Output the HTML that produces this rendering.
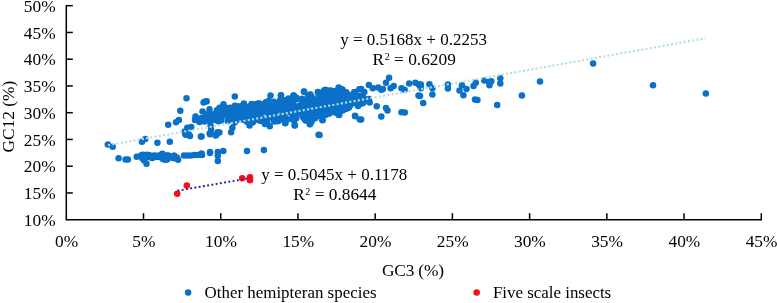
<!DOCTYPE html>
<html><head><meta charset="utf-8"><title>GC12 vs GC3</title>
<style>html,body{margin:0;padding:0;background:#fff}svg{display:block;will-change:transform}</style></head>
<body>
<svg width="777" height="303" viewBox="0 0 777 303">
<rect width="777" height="303" fill="#fff"/>
<g fill="#0b70c8">
<circle cx="107.8" cy="144.4" r="3.25"/>
<circle cx="112.7" cy="146.7" r="3.25"/>
<circle cx="141.9" cy="141.7" r="3.25"/>
<circle cx="145.3" cy="139.0" r="3.25"/>
<circle cx="157.4" cy="142.8" r="3.25"/>
<circle cx="169.8" cy="141.7" r="3.25"/>
<circle cx="118.6" cy="158.3" r="3.25"/>
<circle cx="125.6" cy="159.4" r="3.25"/>
<circle cx="127.9" cy="159.4" r="3.25"/>
<circle cx="136.7" cy="156.8" r="3.25"/>
<circle cx="146.5" cy="163.8" r="3.25"/>
<circle cx="210.0" cy="152.9" r="3.25"/>
<circle cx="217.8" cy="155.7" r="3.25"/>
<circle cx="217.8" cy="161.0" r="3.25"/>
<circle cx="185.3" cy="134.3" r="3.25"/>
<circle cx="190.0" cy="135.9" r="3.25"/>
<circle cx="200.8" cy="136.6" r="3.25"/>
<circle cx="210.0" cy="134.3" r="3.25"/>
<circle cx="215.5" cy="135.1" r="3.25"/>
<circle cx="168.2" cy="124.8" r="3.25"/>
<circle cx="186.5" cy="98.2" r="3.25"/>
<circle cx="180.3" cy="110.8" r="3.25"/>
<circle cx="176.0" cy="122.3" r="3.25"/>
<circle cx="178.9" cy="120.0" r="3.25"/>
<circle cx="203.6" cy="102.4" r="3.25"/>
<circle cx="206.7" cy="101.3" r="3.25"/>
<circle cx="234.8" cy="96.4" r="3.25"/>
<circle cx="243.9" cy="103.5" r="3.25"/>
<circle cx="223.5" cy="104.3" r="3.25"/>
<circle cx="202.5" cy="111.5" r="3.25"/>
<circle cx="209.5" cy="109.3" r="3.25"/>
<circle cx="195.5" cy="116.5" r="3.25"/>
<circle cx="195.0" cy="120.0" r="3.25"/>
<circle cx="199.5" cy="121.9" r="3.25"/>
<circle cx="201.5" cy="118.0" r="3.25"/>
<circle cx="206.6" cy="114.2" r="3.25"/>
<circle cx="187.3" cy="127.7" r="3.25"/>
<circle cx="191.2" cy="127.0" r="3.25"/>
<circle cx="184.7" cy="131.5" r="3.25"/>
<circle cx="188.6" cy="134.1" r="3.25"/>
<circle cx="186.0" cy="134.7" r="3.25"/>
<circle cx="210.5" cy="125.1" r="3.25"/>
<circle cx="211.1" cy="129.6" r="3.25"/>
<circle cx="209.8" cy="133.5" r="3.25"/>
<circle cx="217.6" cy="132.2" r="3.25"/>
<circle cx="215.6" cy="135.4" r="3.25"/>
<circle cx="231.1" cy="132.2" r="3.25"/>
<circle cx="232.4" cy="127.7" r="3.25"/>
<circle cx="219.5" cy="107.7" r="3.25"/>
<circle cx="216.9" cy="110.3" r="3.25"/>
<circle cx="214.4" cy="114.2" r="3.25"/>
<circle cx="215.6" cy="119.3" r="3.25"/>
<circle cx="218.2" cy="121.2" r="3.25"/>
<circle cx="234.9" cy="105.8" r="3.25"/>
<circle cx="229.8" cy="107.7" r="3.25"/>
<circle cx="270.5" cy="95.5" r="3.25"/>
<circle cx="280.9" cy="95.2" r="3.25"/>
<circle cx="293.8" cy="95.5" r="3.25"/>
<circle cx="303.9" cy="91.6" r="3.25"/>
<circle cx="310.0" cy="94.7" r="3.25"/>
<circle cx="318.6" cy="92.4" r="3.25"/>
<circle cx="285.3" cy="100.2" r="3.25"/>
<circle cx="204.7" cy="101.7" r="3.25"/>
<circle cx="201.6" cy="136.4" r="3.25"/>
<circle cx="210.0" cy="133.3" r="3.25"/>
<circle cx="216.3" cy="134.8" r="3.25"/>
<circle cx="219.4" cy="132.5" r="3.25"/>
<circle cx="249.6" cy="125.5" r="3.25"/>
<circle cx="269.8" cy="126.3" r="3.25"/>
<circle cx="265.0" cy="124.0" r="3.25"/>
<circle cx="285.3" cy="123.2" r="3.25"/>
<circle cx="294.6" cy="125.5" r="3.25"/>
<circle cx="310.0" cy="124.0" r="3.25"/>
<circle cx="318.6" cy="134.8" r="3.25"/>
<circle cx="201.6" cy="153.4" r="3.25"/>
<circle cx="210.0" cy="151.9" r="3.25"/>
<circle cx="217.8" cy="151.9" r="3.25"/>
<circle cx="223.3" cy="151.1" r="3.25"/>
<circle cx="247.0" cy="151.1" r="3.25"/>
<circle cx="263.9" cy="150.0" r="3.25"/>
<circle cx="389.1" cy="77.8" r="3.25"/>
<circle cx="386.0" cy="82.8" r="3.25"/>
<circle cx="368.9" cy="85.1" r="3.25"/>
<circle cx="361.2" cy="89.0" r="3.25"/>
<circle cx="364.3" cy="92.0" r="3.25"/>
<circle cx="393.7" cy="85.9" r="3.25"/>
<circle cx="390.6" cy="88.2" r="3.25"/>
<circle cx="372.8" cy="88.2" r="3.25"/>
<circle cx="378.2" cy="87.4" r="3.25"/>
<circle cx="381.3" cy="89.7" r="3.25"/>
<circle cx="382.9" cy="89.0" r="3.25"/>
<circle cx="401.5" cy="88.2" r="3.25"/>
<circle cx="404.6" cy="89.7" r="3.25"/>
<circle cx="409.2" cy="83.5" r="3.25"/>
<circle cx="415.4" cy="82.8" r="3.25"/>
<circle cx="418.5" cy="84.3" r="3.25"/>
<circle cx="420.0" cy="85.9" r="3.25"/>
<circle cx="429.4" cy="84.3" r="3.25"/>
<circle cx="418.5" cy="95.5" r="3.25"/>
<circle cx="423.2" cy="102.9" r="3.25"/>
<circle cx="401.5" cy="112.2" r="3.25"/>
<circle cx="404.8" cy="112.5" r="3.25"/>
<circle cx="386.0" cy="108.0" r="3.25"/>
<circle cx="387.5" cy="110.5" r="3.25"/>
<circle cx="376.7" cy="106.3" r="3.25"/>
<circle cx="381.3" cy="116.6" r="3.25"/>
<circle cx="368.9" cy="99.0" r="3.25"/>
<circle cx="369.7" cy="102.6" r="3.25"/>
<circle cx="355.0" cy="115.8" r="3.25"/>
<circle cx="361.2" cy="119.5" r="3.25"/>
<circle cx="319.6" cy="134.9" r="3.25"/>
<circle cx="322.4" cy="120.2" r="3.25"/>
<circle cx="311.5" cy="121.7" r="3.25"/>
<circle cx="338.7" cy="114.7" r="3.25"/>
<circle cx="348.8" cy="107.8" r="3.25"/>
<circle cx="358.0" cy="105.9" r="3.25"/>
<circle cx="317.8" cy="92.0" r="3.25"/>
<circle cx="325.5" cy="89.7" r="3.25"/>
<circle cx="338.7" cy="87.4" r="3.25"/>
<circle cx="342.6" cy="89.7" r="3.25"/>
<circle cx="355.0" cy="92.0" r="3.25"/>
<circle cx="420.8" cy="84.4" r="3.25"/>
<circle cx="420.8" cy="88.3" r="3.25"/>
<circle cx="432.4" cy="88.3" r="3.25"/>
<circle cx="432.4" cy="94.5" r="3.25"/>
<circle cx="420.0" cy="96.0" r="3.25"/>
<circle cx="447.9" cy="84.4" r="3.25"/>
<circle cx="447.9" cy="88.6" r="3.25"/>
<circle cx="461.9" cy="85.2" r="3.25"/>
<circle cx="459.5" cy="90.6" r="3.25"/>
<circle cx="466.5" cy="89.0" r="3.25"/>
<circle cx="463.4" cy="95.2" r="3.25"/>
<circle cx="475.8" cy="82.8" r="3.25"/>
<circle cx="473.5" cy="85.9" r="3.25"/>
<circle cx="475.0" cy="99.4" r="3.25"/>
<circle cx="477.4" cy="99.9" r="3.25"/>
<circle cx="484.3" cy="80.5" r="3.25"/>
<circle cx="489.0" cy="82.1" r="3.25"/>
<circle cx="491.3" cy="81.3" r="3.25"/>
<circle cx="489.5" cy="85.2" r="3.25"/>
<circle cx="500.3" cy="78.2" r="3.25"/>
<circle cx="500.3" cy="83.6" r="3.25"/>
<circle cx="497.2" cy="105.0" r="3.25"/>
<circle cx="521.9" cy="95.5" r="3.25"/>
<circle cx="540.0" cy="81.4" r="3.25"/>
<circle cx="593.1" cy="63.5" r="3.25"/>
<circle cx="653.0" cy="85.3" r="3.25"/>
<circle cx="705.8" cy="93.6" r="3.25"/>
<circle cx="281.0" cy="95.4" r="3.25"/>
<circle cx="293.4" cy="95.4" r="3.25"/>
<circle cx="304.2" cy="91.8" r="3.25"/>
<circle cx="310.4" cy="94.4" r="3.25"/>
<circle cx="318.1" cy="92.3" r="3.25"/>
<circle cx="324.3" cy="90.2" r="3.25"/>
<circle cx="331.5" cy="90.8" r="3.25"/>
<circle cx="338.7" cy="88.2" r="3.25"/>
<circle cx="341.8" cy="89.2" r="3.25"/>
<circle cx="345.9" cy="92.3" r="3.25"/>
<circle cx="354.2" cy="92.3" r="3.25"/>
<circle cx="359.3" cy="89.2" r="3.25"/>
<circle cx="285.1" cy="122.7" r="3.25"/>
<circle cx="294.9" cy="125.2" r="3.25"/>
<circle cx="309.9" cy="124.2" r="3.25"/>
<circle cx="322.7" cy="120.1" r="3.25"/>
<circle cx="339.2" cy="114.9" r="3.25"/>
<circle cx="355.2" cy="116.3" r="3.25"/>
<circle cx="359.8" cy="119.6" r="3.25"/>
<circle cx="152.3" cy="158.1" r="3.25"/>
<circle cx="142.4" cy="158.6" r="3.25"/>
<circle cx="160.7" cy="156.3" r="3.25"/>
<circle cx="159.5" cy="157.1" r="3.25"/>
<circle cx="141.0" cy="156.1" r="3.25"/>
<circle cx="143.1" cy="156.9" r="3.25"/>
<circle cx="156.3" cy="157.1" r="3.25"/>
<circle cx="148.3" cy="156.0" r="3.25"/>
<circle cx="164.3" cy="158.7" r="3.25"/>
<circle cx="155.2" cy="156.0" r="3.25"/>
<circle cx="178.1" cy="159.7" r="3.25"/>
<circle cx="150.9" cy="157.6" r="3.25"/>
<circle cx="145.2" cy="157.7" r="3.25"/>
<circle cx="171.7" cy="157.6" r="3.25"/>
<circle cx="146.6" cy="154.7" r="3.25"/>
<circle cx="154.2" cy="155.6" r="3.25"/>
<circle cx="161.1" cy="157.2" r="3.25"/>
<circle cx="147.6" cy="156.9" r="3.25"/>
<circle cx="166.4" cy="155.5" r="3.25"/>
<circle cx="162.6" cy="157.3" r="3.25"/>
<circle cx="157.4" cy="155.8" r="3.25"/>
<circle cx="167.1" cy="159.4" r="3.25"/>
<circle cx="149.1" cy="155.0" r="3.25"/>
<circle cx="174.1" cy="155.8" r="3.25"/>
<circle cx="168.3" cy="155.6" r="3.25"/>
<circle cx="144.2" cy="160.5" r="3.25"/>
<circle cx="156.0" cy="156.7" r="3.25"/>
<circle cx="158.8" cy="155.8" r="3.25"/>
<circle cx="141.0" cy="155.4" r="3.25"/>
<circle cx="162.1" cy="154.3" r="3.25"/>
<circle cx="174.1" cy="155.7" r="3.25"/>
<circle cx="163.0" cy="159.0" r="3.25"/>
<circle cx="162.4" cy="153.8" r="3.25"/>
<circle cx="176.8" cy="157.5" r="3.25"/>
<circle cx="158.2" cy="156.4" r="3.25"/>
<circle cx="167.2" cy="156.2" r="3.25"/>
<circle cx="165.1" cy="159.7" r="3.25"/>
<circle cx="150.7" cy="156.6" r="3.25"/>
<circle cx="154.7" cy="156.5" r="3.25"/>
<circle cx="157.7" cy="156.4" r="3.25"/>
<circle cx="146.1" cy="157.1" r="3.25"/>
<circle cx="169.8" cy="157.1" r="3.25"/>
<circle cx="144.6" cy="156.7" r="3.25"/>
<circle cx="173.9" cy="158.3" r="3.25"/>
<circle cx="142.7" cy="154.8" r="3.25"/>
<circle cx="184.0" cy="155.5" r="3.25"/>
<circle cx="187.5" cy="155.5" r="3.25"/>
<circle cx="191.0" cy="155.5" r="3.25"/>
<circle cx="194.5" cy="155.0" r="3.25"/>
<circle cx="198.0" cy="155.1" r="3.25"/>
<circle cx="202.0" cy="155.1" r="3.25"/>
<circle cx="345.9" cy="108.8" r="3.25"/>
<circle cx="224.9" cy="110.7" r="3.25"/>
<circle cx="238.5" cy="114.4" r="3.25"/>
<circle cx="243.4" cy="111.4" r="3.25"/>
<circle cx="260.9" cy="113.1" r="3.25"/>
<circle cx="357.3" cy="102.1" r="3.25"/>
<circle cx="285.1" cy="112.6" r="3.25"/>
<circle cx="311.6" cy="96.8" r="3.25"/>
<circle cx="348.4" cy="105.2" r="3.25"/>
<circle cx="344.3" cy="106.5" r="3.25"/>
<circle cx="264.7" cy="110.2" r="3.25"/>
<circle cx="210.3" cy="115.1" r="3.25"/>
<circle cx="226.8" cy="108.1" r="3.25"/>
<circle cx="200.0" cy="119.8" r="3.25"/>
<circle cx="260.0" cy="103.8" r="3.25"/>
<circle cx="344.3" cy="103.3" r="3.25"/>
<circle cx="224.5" cy="112.3" r="3.25"/>
<circle cx="260.1" cy="105.5" r="3.25"/>
<circle cx="340.1" cy="111.4" r="3.25"/>
<circle cx="276.9" cy="110.8" r="3.25"/>
<circle cx="214.2" cy="115.1" r="3.25"/>
<circle cx="243.7" cy="107.6" r="3.25"/>
<circle cx="287.2" cy="103.6" r="3.25"/>
<circle cx="289.6" cy="100.9" r="3.25"/>
<circle cx="287.1" cy="119.4" r="3.25"/>
<circle cx="342.4" cy="105.1" r="3.25"/>
<circle cx="243.1" cy="107.8" r="3.25"/>
<circle cx="327.4" cy="103.9" r="3.25"/>
<circle cx="328.5" cy="99.4" r="3.25"/>
<circle cx="362.5" cy="102.4" r="3.25"/>
<circle cx="333.0" cy="109.6" r="3.25"/>
<circle cx="322.1" cy="98.1" r="3.25"/>
<circle cx="285.4" cy="107.7" r="3.25"/>
<circle cx="204.8" cy="117.8" r="3.25"/>
<circle cx="242.8" cy="119.3" r="3.25"/>
<circle cx="273.8" cy="119.2" r="3.25"/>
<circle cx="363.0" cy="103.1" r="3.25"/>
<circle cx="260.2" cy="107.1" r="3.25"/>
<circle cx="237.4" cy="109.1" r="3.25"/>
<circle cx="303.0" cy="116.9" r="3.25"/>
<circle cx="338.7" cy="101.6" r="3.25"/>
<circle cx="307.7" cy="113.9" r="3.25"/>
<circle cx="350.1" cy="104.8" r="3.25"/>
<circle cx="323.8" cy="103.2" r="3.25"/>
<circle cx="254.9" cy="117.0" r="3.25"/>
<circle cx="360.3" cy="98.7" r="3.25"/>
<circle cx="266.2" cy="119.8" r="3.25"/>
<circle cx="319.6" cy="97.4" r="3.25"/>
<circle cx="221.0" cy="120.4" r="3.25"/>
<circle cx="333.1" cy="95.0" r="3.25"/>
<circle cx="336.4" cy="112.4" r="3.25"/>
<circle cx="308.4" cy="104.1" r="3.25"/>
<circle cx="290.5" cy="102.8" r="3.25"/>
<circle cx="307.2" cy="108.2" r="3.25"/>
<circle cx="354.0" cy="99.5" r="3.25"/>
<circle cx="343.8" cy="107.1" r="3.25"/>
<circle cx="234.8" cy="110.6" r="3.25"/>
<circle cx="239.7" cy="109.6" r="3.25"/>
<circle cx="269.1" cy="105.0" r="3.25"/>
<circle cx="350.2" cy="98.5" r="3.25"/>
<circle cx="275.6" cy="112.7" r="3.25"/>
<circle cx="349.2" cy="99.6" r="3.25"/>
<circle cx="351.4" cy="100.6" r="3.25"/>
<circle cx="287.8" cy="110.7" r="3.25"/>
<circle cx="230.2" cy="117.8" r="3.25"/>
<circle cx="228.4" cy="117.0" r="3.25"/>
<circle cx="291.8" cy="106.5" r="3.25"/>
<circle cx="285.5" cy="111.5" r="3.25"/>
<circle cx="329.4" cy="94.5" r="3.25"/>
<circle cx="292.4" cy="104.9" r="3.25"/>
<circle cx="245.7" cy="112.5" r="3.25"/>
<circle cx="292.7" cy="115.0" r="3.25"/>
<circle cx="350.6" cy="99.8" r="3.25"/>
<circle cx="301.1" cy="108.9" r="3.25"/>
<circle cx="284.5" cy="114.1" r="3.25"/>
<circle cx="274.6" cy="111.8" r="3.25"/>
<circle cx="278.9" cy="119.0" r="3.25"/>
<circle cx="315.4" cy="114.0" r="3.25"/>
<circle cx="355.5" cy="97.3" r="3.25"/>
<circle cx="292.3" cy="118.7" r="3.25"/>
<circle cx="338.6" cy="94.7" r="3.25"/>
<circle cx="220.1" cy="110.0" r="3.25"/>
<circle cx="239.7" cy="115.4" r="3.25"/>
<circle cx="329.3" cy="111.6" r="3.25"/>
<circle cx="308.9" cy="99.5" r="3.25"/>
<circle cx="345.7" cy="109.0" r="3.25"/>
<circle cx="265.7" cy="111.7" r="3.25"/>
<circle cx="363.3" cy="102.0" r="3.25"/>
<circle cx="226.6" cy="114.3" r="3.25"/>
<circle cx="256.0" cy="106.8" r="3.25"/>
<circle cx="252.6" cy="115.7" r="3.25"/>
<circle cx="272.7" cy="102.7" r="3.25"/>
<circle cx="254.7" cy="114.0" r="3.25"/>
<circle cx="284.5" cy="102.3" r="3.25"/>
<circle cx="362.5" cy="101.9" r="3.25"/>
<circle cx="360.3" cy="95.9" r="3.25"/>
<circle cx="243.8" cy="116.6" r="3.25"/>
<circle cx="244.6" cy="111.3" r="3.25"/>
<circle cx="350.4" cy="105.3" r="3.25"/>
<circle cx="242.7" cy="118.7" r="3.25"/>
<circle cx="294.1" cy="113.8" r="3.25"/>
<circle cx="214.8" cy="119.0" r="3.25"/>
<circle cx="270.2" cy="103.9" r="3.25"/>
<circle cx="354.8" cy="101.9" r="3.25"/>
<circle cx="332.3" cy="93.7" r="3.25"/>
<circle cx="341.3" cy="93.5" r="3.25"/>
<circle cx="342.4" cy="100.7" r="3.25"/>
<circle cx="256.0" cy="112.8" r="3.25"/>
<circle cx="352.9" cy="97.3" r="3.25"/>
<circle cx="221.3" cy="111.8" r="3.25"/>
<circle cx="218.1" cy="110.3" r="3.25"/>
<circle cx="233.3" cy="110.9" r="3.25"/>
<circle cx="325.3" cy="98.9" r="3.25"/>
<circle cx="282.5" cy="104.7" r="3.25"/>
<circle cx="257.3" cy="103.8" r="3.25"/>
<circle cx="241.3" cy="116.2" r="3.25"/>
<circle cx="290.9" cy="103.9" r="3.25"/>
<circle cx="278.3" cy="118.9" r="3.25"/>
<circle cx="271.3" cy="111.4" r="3.25"/>
<circle cx="337.7" cy="99.9" r="3.25"/>
<circle cx="283.6" cy="114.1" r="3.25"/>
<circle cx="362.1" cy="98.1" r="3.25"/>
<circle cx="337.3" cy="106.4" r="3.25"/>
<circle cx="304.9" cy="106.2" r="3.25"/>
<circle cx="257.3" cy="104.4" r="3.25"/>
<circle cx="221.4" cy="118.2" r="3.25"/>
<circle cx="242.2" cy="106.7" r="3.25"/>
<circle cx="338.8" cy="109.4" r="3.25"/>
<circle cx="310.6" cy="102.0" r="3.25"/>
<circle cx="240.0" cy="112.4" r="3.25"/>
<circle cx="226.0" cy="111.0" r="3.25"/>
<circle cx="358.7" cy="104.7" r="3.25"/>
<circle cx="290.3" cy="105.1" r="3.25"/>
<circle cx="359.3" cy="97.9" r="3.25"/>
<circle cx="258.8" cy="103.4" r="3.25"/>
<circle cx="263.0" cy="111.5" r="3.25"/>
<circle cx="283.0" cy="105.0" r="3.25"/>
<circle cx="283.3" cy="101.4" r="3.25"/>
<circle cx="243.6" cy="111.1" r="3.25"/>
<circle cx="206.9" cy="117.2" r="3.25"/>
<circle cx="238.4" cy="113.5" r="3.25"/>
<circle cx="323.8" cy="107.1" r="3.25"/>
<circle cx="318.1" cy="113.4" r="3.25"/>
<circle cx="264.3" cy="108.9" r="3.25"/>
<circle cx="362.5" cy="96.5" r="3.25"/>
<circle cx="319.5" cy="107.8" r="3.25"/>
<circle cx="347.2" cy="103.0" r="3.25"/>
<circle cx="321.1" cy="111.2" r="3.25"/>
<circle cx="223.0" cy="114.8" r="3.25"/>
<circle cx="337.8" cy="108.3" r="3.25"/>
<circle cx="336.4" cy="104.1" r="3.25"/>
<circle cx="347.3" cy="103.9" r="3.25"/>
<circle cx="314.4" cy="99.9" r="3.25"/>
<circle cx="205.1" cy="118.1" r="3.25"/>
<circle cx="292.2" cy="112.4" r="3.25"/>
<circle cx="303.3" cy="112.3" r="3.25"/>
<circle cx="280.7" cy="101.6" r="3.25"/>
<circle cx="331.6" cy="108.2" r="3.25"/>
<circle cx="283.0" cy="111.3" r="3.25"/>
<circle cx="308.8" cy="97.9" r="3.25"/>
<circle cx="321.6" cy="98.8" r="3.25"/>
<circle cx="212.3" cy="119.7" r="3.25"/>
<circle cx="361.0" cy="99.5" r="3.25"/>
<circle cx="263.1" cy="111.6" r="3.25"/>
<circle cx="312.8" cy="112.1" r="3.25"/>
<circle cx="301.8" cy="111.7" r="3.25"/>
<circle cx="212.8" cy="114.6" r="3.25"/>
<circle cx="322.6" cy="99.7" r="3.25"/>
<circle cx="293.7" cy="100.0" r="3.25"/>
<circle cx="210.0" cy="119.4" r="3.25"/>
<circle cx="314.2" cy="109.8" r="3.25"/>
<circle cx="248.0" cy="111.8" r="3.25"/>
<circle cx="276.9" cy="104.1" r="3.25"/>
<circle cx="347.5" cy="96.2" r="3.25"/>
<circle cx="361.4" cy="103.5" r="3.25"/>
<circle cx="335.3" cy="112.5" r="3.25"/>
<circle cx="274.2" cy="107.1" r="3.25"/>
<circle cx="234.8" cy="108.6" r="3.25"/>
<circle cx="286.5" cy="118.9" r="3.25"/>
<circle cx="283.9" cy="117.7" r="3.25"/>
<circle cx="316.1" cy="99.5" r="3.25"/>
<circle cx="348.1" cy="100.7" r="3.25"/>
<circle cx="204.1" cy="119.2" r="3.25"/>
<circle cx="274.4" cy="107.6" r="3.25"/>
<circle cx="223.2" cy="112.3" r="3.25"/>
<circle cx="338.6" cy="92.0" r="3.25"/>
<circle cx="323.9" cy="111.1" r="3.25"/>
<circle cx="317.6" cy="114.0" r="3.25"/>
<circle cx="247.8" cy="110.7" r="3.25"/>
<circle cx="364.8" cy="99.9" r="3.25"/>
<circle cx="259.5" cy="110.7" r="3.25"/>
<circle cx="245.4" cy="106.5" r="3.25"/>
<circle cx="337.7" cy="97.7" r="3.25"/>
<circle cx="354.4" cy="97.1" r="3.25"/>
<circle cx="243.8" cy="108.0" r="3.25"/>
<circle cx="261.6" cy="119.9" r="3.25"/>
<circle cx="345.9" cy="106.3" r="3.25"/>
<circle cx="304.1" cy="117.1" r="3.25"/>
<circle cx="355.2" cy="100.8" r="3.25"/>
<circle cx="318.7" cy="94.9" r="3.25"/>
<circle cx="320.8" cy="103.3" r="3.25"/>
<circle cx="324.2" cy="106.8" r="3.25"/>
<circle cx="247.2" cy="118.8" r="3.25"/>
<circle cx="221.0" cy="113.2" r="3.25"/>
<circle cx="249.1" cy="119.6" r="3.25"/>
<circle cx="242.9" cy="109.8" r="3.25"/>
<circle cx="292.0" cy="107.8" r="3.25"/>
<circle cx="227.6" cy="110.1" r="3.25"/>
<circle cx="349.5" cy="100.7" r="3.25"/>
<circle cx="364.4" cy="98.9" r="3.25"/>
<circle cx="223.0" cy="109.4" r="3.25"/>
<circle cx="256.4" cy="105.1" r="3.25"/>
<circle cx="239.5" cy="114.0" r="3.25"/>
<circle cx="346.4" cy="105.2" r="3.25"/>
<circle cx="268.1" cy="110.2" r="3.25"/>
<circle cx="286.5" cy="108.0" r="3.25"/>
<circle cx="255.8" cy="104.6" r="3.25"/>
<circle cx="220.8" cy="116.9" r="3.25"/>
<circle cx="342.4" cy="96.3" r="3.25"/>
<circle cx="244.7" cy="111.0" r="3.25"/>
<circle cx="273.6" cy="119.5" r="3.25"/>
<circle cx="340.0" cy="109.1" r="3.25"/>
<circle cx="203.6" cy="120.4" r="3.25"/>
<circle cx="347.8" cy="100.5" r="3.25"/>
<circle cx="296.9" cy="99.2" r="3.25"/>
<circle cx="264.6" cy="119.5" r="3.25"/>
<circle cx="336.2" cy="109.8" r="3.25"/>
<circle cx="360.4" cy="97.3" r="3.25"/>
<circle cx="218.0" cy="116.2" r="3.25"/>
<circle cx="312.5" cy="116.0" r="3.25"/>
<circle cx="319.1" cy="108.0" r="3.25"/>
<circle cx="326.2" cy="102.4" r="3.25"/>
<circle cx="291.0" cy="101.0" r="3.25"/>
<circle cx="329.1" cy="97.2" r="3.25"/>
<circle cx="351.8" cy="102.5" r="3.25"/>
<circle cx="250.1" cy="106.3" r="3.25"/>
<circle cx="241.5" cy="115.6" r="3.25"/>
<circle cx="218.5" cy="116.1" r="3.25"/>
<circle cx="296.2" cy="107.2" r="3.25"/>
<circle cx="236.9" cy="106.5" r="3.25"/>
<circle cx="249.8" cy="119.4" r="3.25"/>
<circle cx="306.4" cy="116.0" r="3.25"/>
<circle cx="278.4" cy="106.1" r="3.25"/>
<circle cx="316.3" cy="101.2" r="3.25"/>
<circle cx="311.3" cy="104.9" r="3.25"/>
<circle cx="242.4" cy="118.8" r="3.25"/>
<circle cx="237.4" cy="111.0" r="3.25"/>
<circle cx="269.4" cy="114.9" r="3.25"/>
<circle cx="322.0" cy="104.2" r="3.25"/>
<circle cx="251.4" cy="117.2" r="3.25"/>
<circle cx="238.1" cy="116.8" r="3.25"/>
<circle cx="281.8" cy="104.9" r="3.25"/>
<circle cx="236.8" cy="115.6" r="3.25"/>
<circle cx="356.5" cy="96.0" r="3.25"/>
<circle cx="264.9" cy="106.9" r="3.25"/>
<circle cx="360.7" cy="96.3" r="3.25"/>
<circle cx="208.6" cy="117.3" r="3.25"/>
<circle cx="348.2" cy="106.9" r="3.25"/>
<circle cx="320.9" cy="115.3" r="3.25"/>
<circle cx="353.7" cy="98.1" r="3.25"/>
<circle cx="323.1" cy="93.7" r="3.25"/>
<circle cx="309.6" cy="104.4" r="3.25"/>
<circle cx="261.7" cy="109.0" r="3.25"/>
<circle cx="227.9" cy="111.0" r="3.25"/>
<circle cx="258.0" cy="119.7" r="3.25"/>
<circle cx="234.2" cy="117.9" r="3.25"/>
<circle cx="335.6" cy="100.9" r="3.25"/>
<circle cx="261.5" cy="119.2" r="3.25"/>
<circle cx="231.8" cy="119.1" r="3.25"/>
<circle cx="334.0" cy="108.3" r="3.25"/>
<circle cx="206.7" cy="115.6" r="3.25"/>
<circle cx="351.8" cy="97.2" r="3.25"/>
<circle cx="323.3" cy="112.5" r="3.25"/>
<circle cx="255.9" cy="108.1" r="3.25"/>
<circle cx="358.0" cy="101.1" r="3.25"/>
<circle cx="243.3" cy="110.0" r="3.25"/>
<circle cx="245.5" cy="116.2" r="3.25"/>
<circle cx="351.2" cy="102.5" r="3.25"/>
<circle cx="355.6" cy="94.5" r="3.25"/>
<circle cx="238.6" cy="119.5" r="3.25"/>
<circle cx="357.4" cy="98.7" r="3.25"/>
<circle cx="241.4" cy="112.7" r="3.25"/>
<circle cx="353.1" cy="96.2" r="3.25"/>
<circle cx="332.4" cy="107.9" r="3.25"/>
<circle cx="335.8" cy="108.2" r="3.25"/>
<circle cx="300.2" cy="105.4" r="3.25"/>
<circle cx="252.7" cy="109.8" r="3.25"/>
<circle cx="329.1" cy="93.9" r="3.25"/>
<circle cx="240.8" cy="106.2" r="3.25"/>
<circle cx="291.2" cy="106.6" r="3.25"/>
<circle cx="361.7" cy="102.9" r="3.25"/>
<circle cx="363.0" cy="97.5" r="3.25"/>
<circle cx="213.9" cy="116.9" r="3.25"/>
<circle cx="317.1" cy="104.1" r="3.25"/>
<circle cx="238.6" cy="114.8" r="3.25"/>
<circle cx="311.2" cy="112.1" r="3.25"/>
<circle cx="339.8" cy="105.1" r="3.25"/>
<circle cx="248.5" cy="110.3" r="3.25"/>
<circle cx="321.8" cy="97.6" r="3.25"/>
<circle cx="240.8" cy="107.9" r="3.25"/>
<circle cx="345.9" cy="102.4" r="3.25"/>
<circle cx="253.8" cy="110.3" r="3.25"/>
<circle cx="363.8" cy="99.4" r="3.25"/>
<circle cx="307.8" cy="118.0" r="3.25"/>
<circle cx="216.9" cy="120.2" r="3.25"/>
<circle cx="338.7" cy="110.3" r="3.25"/>
<circle cx="206.7" cy="116.0" r="3.25"/>
<circle cx="296.2" cy="118.3" r="3.25"/>
<circle cx="261.4" cy="118.3" r="3.25"/>
<circle cx="274.1" cy="106.9" r="3.25"/>
<circle cx="328.3" cy="112.8" r="3.25"/>
<circle cx="302.3" cy="102.7" r="3.25"/>
<circle cx="260.8" cy="105.8" r="3.25"/>
<circle cx="233.7" cy="114.9" r="3.25"/>
<circle cx="307.5" cy="101.2" r="3.25"/>
<circle cx="311.9" cy="99.6" r="3.25"/>
<circle cx="251.5" cy="107.4" r="3.25"/>
<circle cx="331.2" cy="103.9" r="3.25"/>
<circle cx="210.4" cy="116.8" r="3.25"/>
<circle cx="290.8" cy="112.7" r="3.25"/>
<circle cx="215.0" cy="119.1" r="3.25"/>
<circle cx="267.6" cy="107.9" r="3.25"/>
<circle cx="250.8" cy="119.3" r="3.25"/>
<circle cx="251.5" cy="113.2" r="3.25"/>
<circle cx="258.9" cy="110.5" r="3.25"/>
<circle cx="342.6" cy="110.6" r="3.25"/>
<circle cx="260.0" cy="106.7" r="3.25"/>
<circle cx="320.1" cy="98.0" r="3.25"/>
<circle cx="269.9" cy="117.3" r="3.25"/>
<circle cx="267.0" cy="118.6" r="3.25"/>
<circle cx="276.0" cy="105.0" r="3.25"/>
<circle cx="305.7" cy="116.7" r="3.25"/>
<circle cx="261.2" cy="112.0" r="3.25"/>
<circle cx="224.1" cy="114.7" r="3.25"/>
<circle cx="352.7" cy="95.2" r="3.25"/>
<circle cx="280.9" cy="116.4" r="3.25"/>
<circle cx="359.5" cy="96.7" r="3.25"/>
<circle cx="361.0" cy="99.4" r="3.25"/>
<circle cx="264.0" cy="119.1" r="3.25"/>
<circle cx="302.4" cy="115.4" r="3.25"/>
<circle cx="236.6" cy="118.1" r="3.25"/>
<circle cx="336.8" cy="95.6" r="3.25"/>
<circle cx="236.0" cy="113.6" r="3.25"/>
<circle cx="263.3" cy="105.3" r="3.25"/>
<circle cx="240.8" cy="118.5" r="3.25"/>
<circle cx="325.0" cy="93.4" r="3.25"/>
<circle cx="338.3" cy="94.3" r="3.25"/>
<circle cx="298.9" cy="110.1" r="3.25"/>
<circle cx="303.5" cy="104.4" r="3.25"/>
<circle cx="269.3" cy="113.1" r="3.25"/>
<circle cx="270.2" cy="114.4" r="3.25"/>
<circle cx="273.7" cy="110.2" r="3.25"/>
<circle cx="280.8" cy="105.9" r="3.25"/>
<circle cx="326.0" cy="109.4" r="3.25"/>
<circle cx="275.6" cy="105.3" r="3.25"/>
<circle cx="278.1" cy="103.8" r="3.25"/>
<circle cx="221.2" cy="109.9" r="3.25"/>
<circle cx="272.9" cy="111.5" r="3.25"/>
<circle cx="328.3" cy="103.4" r="3.25"/>
<circle cx="262.3" cy="119.8" r="3.25"/>
<circle cx="364.4" cy="101.0" r="3.25"/>
<circle cx="334.5" cy="95.9" r="3.25"/>
<circle cx="362.0" cy="99.4" r="3.25"/>
<circle cx="357.8" cy="104.4" r="3.25"/>
<circle cx="353.5" cy="94.7" r="3.25"/>
<circle cx="257.9" cy="116.3" r="3.25"/>
<circle cx="245.4" cy="107.2" r="3.25"/>
<circle cx="282.9" cy="118.4" r="3.25"/>
<circle cx="234.4" cy="113.6" r="3.25"/>
<circle cx="252.6" cy="104.6" r="3.25"/>
<circle cx="230.0" cy="119.7" r="3.25"/>
<circle cx="312.1" cy="115.1" r="3.25"/>
<circle cx="305.0" cy="105.2" r="3.25"/>
<circle cx="344.0" cy="102.3" r="3.25"/>
<circle cx="295.7" cy="117.3" r="3.25"/>
<circle cx="303.9" cy="106.1" r="3.25"/>
<circle cx="331.6" cy="97.7" r="3.25"/>
<circle cx="363.4" cy="100.0" r="3.25"/>
<circle cx="259.4" cy="116.5" r="3.25"/>
<circle cx="273.0" cy="105.5" r="3.25"/>
<circle cx="322.7" cy="94.1" r="3.25"/>
<circle cx="335.3" cy="97.1" r="3.25"/>
<circle cx="305.5" cy="118.4" r="3.25"/>
<circle cx="296.7" cy="112.8" r="3.25"/>
<circle cx="251.6" cy="104.1" r="3.25"/>
<circle cx="205.6" cy="119.5" r="3.25"/>
<circle cx="271.3" cy="111.7" r="3.25"/>
<circle cx="347.8" cy="95.1" r="3.25"/>
<circle cx="237.5" cy="106.5" r="3.25"/>
<circle cx="217.5" cy="112.6" r="3.25"/>
<circle cx="296.3" cy="111.3" r="3.25"/>
<circle cx="233.7" cy="113.2" r="3.25"/>
<circle cx="240.2" cy="107.2" r="3.25"/>
<circle cx="305.3" cy="116.0" r="3.25"/>
<circle cx="329.1" cy="100.9" r="3.25"/>
<circle cx="243.6" cy="114.7" r="3.25"/>
<circle cx="292.8" cy="106.9" r="3.25"/>
<circle cx="306.5" cy="106.6" r="3.25"/>
<circle cx="354.6" cy="103.1" r="3.25"/>
<circle cx="267.0" cy="107.1" r="3.25"/>
<circle cx="355.3" cy="95.9" r="3.25"/>
<circle cx="232.9" cy="113.7" r="3.25"/>
<circle cx="305.9" cy="114.7" r="3.25"/>
<circle cx="228.8" cy="111.2" r="3.25"/>
<circle cx="329.2" cy="107.7" r="3.25"/>
<circle cx="323.0" cy="103.2" r="3.25"/>
<circle cx="322.4" cy="103.0" r="3.25"/>
<circle cx="237.3" cy="109.5" r="3.25"/>
<circle cx="206.4" cy="120.3" r="3.25"/>
<circle cx="314.7" cy="113.4" r="3.25"/>
<circle cx="317.4" cy="100.0" r="3.25"/>
<circle cx="291.4" cy="108.7" r="3.25"/>
<circle cx="330.1" cy="103.4" r="3.25"/>
<circle cx="243.8" cy="119.4" r="3.25"/>
<circle cx="202.5" cy="118.8" r="3.25"/>
<circle cx="322.7" cy="113.7" r="3.25"/>
<circle cx="323.1" cy="100.1" r="3.25"/>
<circle cx="345.2" cy="98.2" r="3.25"/>
<circle cx="304.1" cy="112.4" r="3.25"/>
<circle cx="309.8" cy="117.4" r="3.25"/>
<circle cx="277.5" cy="117.2" r="3.25"/>
<circle cx="315.1" cy="113.6" r="3.25"/>
<circle cx="272.1" cy="115.5" r="3.25"/>
<circle cx="294.1" cy="105.9" r="3.25"/>
<circle cx="235.0" cy="107.7" r="3.25"/>
<circle cx="350.3" cy="95.5" r="3.25"/>
<circle cx="204.4" cy="121.4" r="3.25"/>
<circle cx="256.9" cy="105.9" r="3.25"/>
<circle cx="204.7" cy="120.1" r="3.25"/>
<circle cx="304.6" cy="112.4" r="3.25"/>
<circle cx="321.6" cy="94.7" r="3.25"/>
<circle cx="297.4" cy="106.5" r="3.25"/>
<circle cx="334.9" cy="109.4" r="3.25"/>
<circle cx="347.1" cy="94.0" r="3.25"/>
<circle cx="343.2" cy="108.9" r="3.25"/>
<circle cx="355.8" cy="95.5" r="3.25"/>
<circle cx="233.9" cy="107.2" r="3.25"/>
<circle cx="339.9" cy="107.9" r="3.25"/>
<circle cx="304.6" cy="115.1" r="3.25"/>
<circle cx="304.2" cy="103.8" r="3.25"/>
<circle cx="216.5" cy="119.5" r="3.25"/>
<circle cx="233.8" cy="112.5" r="3.25"/>
<circle cx="203.5" cy="118.5" r="3.25"/>
<circle cx="318.1" cy="102.1" r="3.25"/>
<circle cx="252.9" cy="119.6" r="3.25"/>
<circle cx="283.1" cy="117.1" r="3.25"/>
<circle cx="302.0" cy="98.8" r="3.25"/>
<circle cx="268.1" cy="110.6" r="3.25"/>
<circle cx="327.5" cy="99.9" r="3.25"/>
<circle cx="316.3" cy="106.3" r="3.25"/>
<circle cx="248.2" cy="122.0" r="3.25"/>
<circle cx="234.7" cy="122.2" r="3.25"/>
<circle cx="243.2" cy="119.6" r="3.25"/>
<circle cx="246.6" cy="121.6" r="3.25"/>
<circle cx="329.6" cy="113.5" r="3.25"/>
<circle cx="277.5" cy="121.2" r="3.25"/>
<circle cx="310.3" cy="117.9" r="3.25"/>
<circle cx="277.9" cy="120.8" r="3.25"/>
<circle cx="314.0" cy="117.4" r="3.25"/>
<circle cx="326.0" cy="114.7" r="3.25"/>
<circle cx="248.0" cy="121.5" r="3.25"/>
<circle cx="278.3" cy="120.1" r="3.25"/>
<circle cx="293.1" cy="119.7" r="3.25"/>
<circle cx="309.3" cy="119.5" r="3.25"/>
<circle cx="309.2" cy="119.4" r="3.25"/>
<circle cx="263.1" cy="121.5" r="3.25"/>
<circle cx="267.2" cy="122.8" r="3.25"/>
<circle cx="234.2" cy="122.4" r="3.25"/>
<circle cx="227.7" cy="120.9" r="3.25"/>
<circle cx="253.2" cy="122.3" r="3.25"/>
<circle cx="278.6" cy="120.8" r="3.25"/>
<circle cx="319.6" cy="116.0" r="3.25"/>
<circle cx="274.3" cy="121.5" r="3.25"/>
<circle cx="305.7" cy="120.4" r="3.25"/>
<circle cx="294.2" cy="120.4" r="3.25"/>
<circle cx="260.0" cy="120.7" r="3.25"/>
<circle cx="315.2" cy="118.2" r="3.25"/>
<circle cx="304.4" cy="119.0" r="3.25"/>
<circle cx="293.9" cy="98.1" r="3.25"/>
<circle cx="307.9" cy="96.4" r="3.25"/>
<circle cx="296.2" cy="97.5" r="3.25"/>
<circle cx="273.8" cy="101.7" r="3.25"/>
<circle cx="280.2" cy="100.1" r="3.25"/>
<circle cx="334.4" cy="91.3" r="3.25"/>
<circle cx="265.6" cy="102.4" r="3.25"/>
<circle cx="282.7" cy="100.2" r="3.25"/>
<circle cx="266.1" cy="102.2" r="3.25"/>
<circle cx="268.9" cy="100.7" r="3.25"/>
<circle cx="322.9" cy="92.7" r="3.25"/>
<circle cx="346.2" cy="92.5" r="3.25"/>
<circle cx="288.4" cy="98.5" r="3.25"/>
<circle cx="329.5" cy="90.6" r="3.25"/>
</g>
<g fill="#ff0a16">
<circle cx="177.2" cy="193.8" r="3.25"/>
<circle cx="186.8" cy="185.6" r="3.25"/>
<circle cx="242.2" cy="178.3" r="3.25"/>
<circle cx="250.0" cy="177.2" r="3.25"/>
<circle cx="250.0" cy="180.2" r="3.25"/>
</g>
<line x1="108.0" y1="145.2" x2="705.7" y2="38.2" stroke="#b2e0dc" stroke-width="2.1" stroke-dasharray="2.1 2.2"/>
<line x1="177.5" y1="190.7" x2="250.1" y2="178.1" stroke="#1f1f9c" stroke-width="1.9" stroke-dasharray="1.9 2.4"/>
<g stroke="#000" stroke-width="1.5" fill="none">
<path d="M66.3 4.95V219.8H762.03"/>
<path d="M66.3 192.95h6.5"/>
<path d="M66.3 166.20h6.5"/>
<path d="M66.3 139.45h6.5"/>
<path d="M66.3 112.70h6.5"/>
<path d="M66.3 85.95h6.5"/>
<path d="M66.3 59.20h6.5"/>
<path d="M66.3 32.45h6.5"/>
<path d="M66.3 5.70h6.5"/>
<path d="M143.52 219.8v-6.6"/>
<path d="M220.74 219.8v-6.6"/>
<path d="M297.96 219.8v-6.6"/>
<path d="M375.18 219.8v-6.6"/>
<path d="M452.40 219.8v-6.6"/>
<path d="M529.62 219.8v-6.6"/>
<path d="M606.84 219.8v-6.6"/>
<path d="M684.06 219.8v-6.6"/>
<path d="M761.28 219.8v-6.6"/>
</g>
<g font-family="'Liberation Serif', serif" font-size="17.33" fill="#000">
<g text-anchor="end">
<text x="55.6" y="225.8">10%</text>
<text x="55.6" y="199.0">15%</text>
<text x="55.6" y="172.3">20%</text>
<text x="55.6" y="145.5">25%</text>
<text x="55.6" y="118.8">30%</text>
<text x="55.6" y="92.0">35%</text>
<text x="55.6" y="65.3">40%</text>
<text x="55.6" y="38.5">45%</text>
<text x="55.6" y="11.8">50%</text>
</g>
<g text-anchor="middle">
<text x="66.6" y="246.9">0%</text>
<text x="143.8" y="246.9">5%</text>
<text x="221.0" y="246.9">10%</text>
<text x="298.3" y="246.9">15%</text>
<text x="375.5" y="246.9">20%</text>
<text x="452.7" y="246.9">25%</text>
<text x="529.9" y="246.9">30%</text>
<text x="607.1" y="246.9">35%</text>
<text x="684.4" y="246.9">40%</text>
<text x="761.6" y="246.9">45%</text>
</g>
<text x="340.3" y="44.5" textLength="146.6" lengthAdjust="spacingAndGlyphs">y = 0.5168x + 0.2253</text>
<text x="372.6" y="64.8">R<tspan font-size="10" dy="-5.2" dx="0.6">2</tspan><tspan dy="5.2"> = 0.6209</tspan></text>
<text x="261.3" y="180.1" textLength="146" lengthAdjust="spacingAndGlyphs">y = 0.5045x + 0.1178</text>
<text x="293.2" y="199.9">R<tspan font-size="10" dy="-5.2" dx="0.6">2</tspan><tspan dy="5.2"> = 0.8644</tspan></text>
<text x="382" y="276.2" textLength="62" lengthAdjust="spacing">GC3 (%)</text>
<text x="204.5" y="298.3" textLength="172" lengthAdjust="spacingAndGlyphs">Other hemipteran species</text>
<text x="492.9" y="298.3" textLength="118.3" lengthAdjust="spacingAndGlyphs">Five scale insects</text>
<text transform="translate(14.4,152.4) rotate(-90)">GC12 (%)</text>
</g>
<circle cx="188.1" cy="292.5" r="3.25" fill="#0b70c8"/>
<circle cx="476.7" cy="292.5" r="3.25" fill="#ff0a16"/>
</svg>
</body></html>
